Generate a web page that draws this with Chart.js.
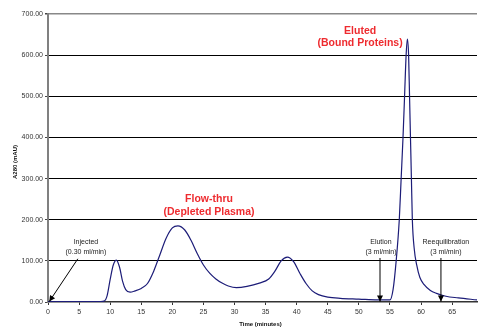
<!DOCTYPE html>
<html>
<head>
<meta charset="utf-8">
<script src="https://cdn.jsdelivr.net/npm/chart.js@4/dist/chart.umd.min.js"></script>
<style>
html,body{margin:0;padding:0;background:#fff;}
#c{display:block;}
</style>
</head>
<body>
<canvas id="c" width="478" height="328"></canvas>
<script>
// ---- data ----
const timeMin = [0,5,8.5,9,9.5,10,10.5,11,11.5,12,12.5,13.2,14,15,16,17,18,19,20,20.9,22,23,24,25,26,27,28,29,30.3,32,34,35.5,36.5,37.5,38.5,39.5,40.5,41.5,42.5,43.5,45,47,50,53,55,55.5,56,56.5,56.8,57.1,57.35,57.6,57.8,58.0,58.15,58.3,58.45,58.6,58.9,59.3,59.8,60.5,61.5,62.5,64,66,69];
const a280 = [1,1,1,2,15,55,90,102,85,50,30,24,27,33,45,75,115,155,180,185,175,150,118,90,70,56,46,39,35,38,46,56,75,100,109,98,70,45,27,18,12,9,7,5,5,30,100,200,300,400,500,600,639,600,500,400,300,200,130,90,60,42,28,21,14,10,5];
const xTickLabels = [0,5,10,15,20,25,30,35,40,45,50,55,60,65];
const yTickLabels = [0,100,200,300,400,500,600,700];

// annotations: text lines anchored at (time, value); arrows from (t1,v1) to (t2,v2)
const noteLines = [
  {t:6.1,  v:146, text:'Injected', kind:'small'},
  {t:6.1,  v:121, text:'(0.30 ml/min)', kind:'small'},
  {t:53.55,v:146, text:'Elution', kind:'small'},
  {t:53.55,v:121, text:'(3 ml/min)', kind:'small'},
  {t:64.0, v:146, text:'Reequilibration', kind:'small'},
  {t:64.0, v:121, text:'(3 ml/min)', kind:'small'},
  {t:25.9, v:250, text:'Flow-thru', kind:'red'},
  {t:25.9, v:218, text:'(Depleted Plasma)', kind:'red'},
  {t:50.2, v:659, text:'Eluted', kind:'red'},
  {t:50.2, v:629, text:'(Bound Proteins)', kind:'red'}
];
const arrows = [
  {t1:4.8, v1:105, t2:0.2, v2:1},
  {t1:53.4, v1:107, t2:53.4, v2:1},
  {t1:63.2, v1:107, t2:63.2, v2:1}
];

const points = timeMin.map((t,i)=>({x:t,y:a280[i]}));

const annot = {
  id:'annot',
  afterDatasetsDraw(chart){
    const ctx = chart.ctx, xs = chart.scales.x, ys = chart.scales.y;
    ctx.save();
    // arrows
    ctx.strokeStyle = '#000'; ctx.fillStyle = '#000'; ctx.lineWidth = 1;
    arrows.forEach(a=>{
      const x1 = xs.getPixelForValue(a.t1), y1 = ys.getPixelForValue(a.v1);
      const x2 = xs.getPixelForValue(a.t2), y2 = ys.getPixelForValue(a.v2);
      ctx.beginPath(); ctx.moveTo(x1,y1); ctx.lineTo(x2,y2); ctx.stroke();
      const ang = Math.atan2(y2-y1,x2-x1), L = 6, W = 3;
      ctx.beginPath();
      ctx.moveTo(x2,y2);
      ctx.lineTo(x2 - L*Math.cos(ang) + W*Math.sin(ang), y2 - L*Math.sin(ang) - W*Math.cos(ang));
      ctx.lineTo(x2 - L*Math.cos(ang) - W*Math.sin(ang), y2 - L*Math.sin(ang) + W*Math.cos(ang));
      ctx.closePath(); ctx.fill();
    });
    // text
    ctx.textAlign = 'center'; ctx.textBaseline = 'middle';
    noteLines.forEach(n=>{
      if(n.kind==='red'){ ctx.font = 'bold 10.5px "Liberation Sans", Arial, sans-serif'; ctx.fillStyle = '#ee2b2f'; }
      else { ctx.font = '7px "Liberation Sans", Arial, sans-serif'; ctx.fillStyle = '#222'; }
      ctx.fillText(n.text, xs.getPixelForValue(n.t), ys.getPixelForValue(n.v));
    });
    // axis titles
    ctx.fillStyle = '#111';
    ctx.font = 'bold 6px "Liberation Sans", Arial, sans-serif';
    ctx.fillText('Time (minutes)', (chart.chartArea.left+chart.chartArea.right)/2 - 2, 324);
    ctx.translate(15, (chart.chartArea.top+chart.chartArea.bottom)/2 + 4);
    ctx.rotate(-Math.PI/2);
    ctx.fillText('A280 (mAU)', 0, 0);
    ctx.restore();
  }
};

new Chart(document.getElementById('c'), {
  type:'line',
  data:{datasets:[{
    data: points,
    borderColor:'#1c1c78',
    borderWidth:1.2,
    pointRadius:0,
    fill:false,
    cubicInterpolationMode:'monotone'
  }]},
  options:{
    responsive:false,
    animation:false,
    devicePixelRatio:1,
    layout:{padding:{top:14,right:1,left:0,bottom:0}},
    plugins:{legend:{display:false},tooltip:{enabled:false},title:{display:false}},
    scales:{
      x:{
        type:'linear', min:0, max:69,
        afterBuildTicks(s){ s.ticks = xTickLabels.map(v=>({value:v})); },
        afterFit(s){ s.height = 26; },
        border:{display:true,color:'#333',width:1.5},
        grid:{drawOnChartArea:false, drawTicks:true, tickLength:3, tickColor:'#333'},
        ticks:{font:{family:'"Liberation Sans", Arial, sans-serif',size:7},color:'#333',padding:3,maxRotation:0,autoSkip:false}
      },
      y:{
        min:0, max:700,
        afterBuildTicks(s){ s.ticks = yTickLabels.map(v=>({value:v})); },
        afterFit(s){ s.width = 48; },
        border:{display:true,color:'#808080',width:2},
        grid:{
          color:(c)=> c.tick && c.tick.value===700 ? '#888' : (c.tick && c.tick.value===0 ? 'rgba(0,0,0,0)' : '#000'),
          lineWidth:(c)=> c.tick && c.tick.value===700 ? 1.5 : 1,
          drawTicks:true, tickLength:3, tickColor:'#444'
        },
        ticks:{font:{family:'"Liberation Sans", Arial, sans-serif',size:7},color:'#333',padding:2,
          callback:(v)=>Number(v).toFixed(2)}
      }
    }
  },
  plugins:[annot]
});
</script>
</body>
</html>
